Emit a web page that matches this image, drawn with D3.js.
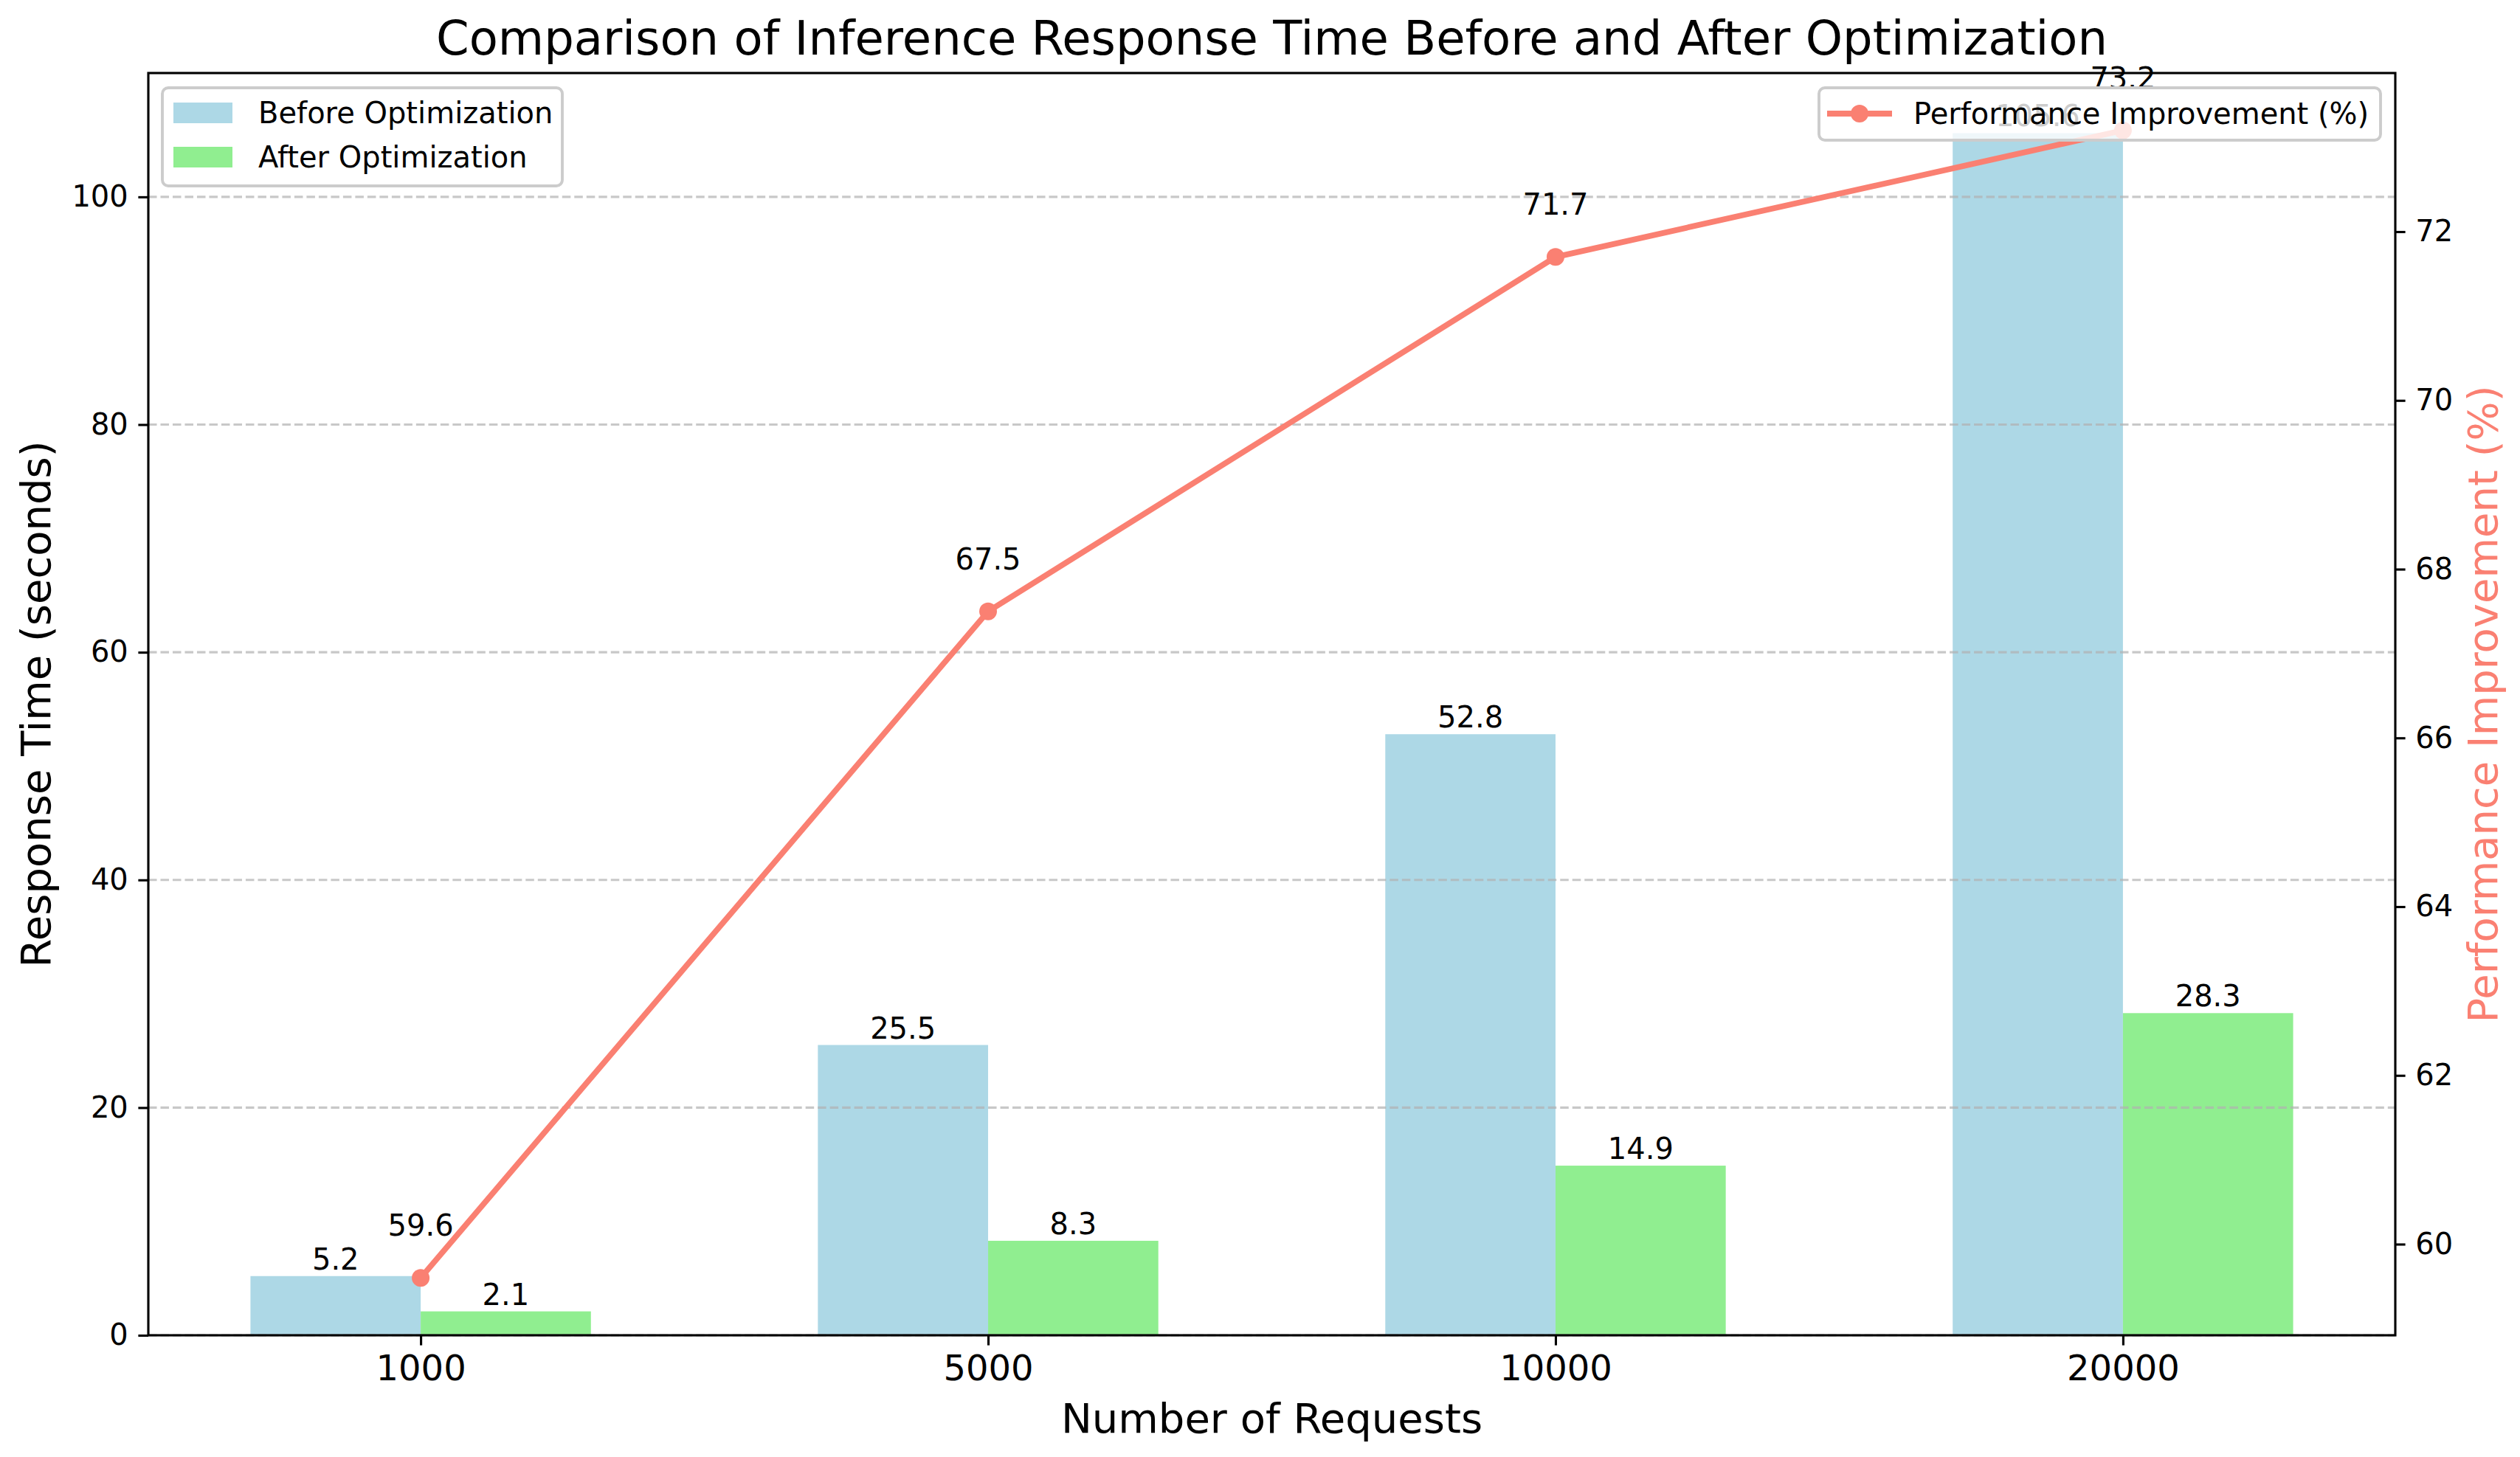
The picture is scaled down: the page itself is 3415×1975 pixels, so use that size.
<!DOCTYPE html>
<html>
<head>
<meta charset="utf-8">
<script src="https://cdn.jsdelivr.net/npm/d3@7"></script>
<style>
body { margin: 0; background: #fff; }
text { font-family: "DejaVu Sans", sans-serif; }
</style>
</head>
<body>
<div id="chart"></div>
<script>
// data
var categories = ["1000", "5000", "10000", "20000"];
var beforeTimes = [5.2, 25.5, 52.8, 105.6];
var afterTimes = [2.1, 8.3, 14.9, 28.3];
var improvement = [59.6, 67.5, 71.7, 73.2];
var leftTicks = [0, 20, 40, 60, 80, 100];
var rightTicks = [60, 62, 64, 66, 68, 70, 72];

var w = 3415, h = 1975;
var m = {left: 201, right: 3246, top: 99, bottom: 1810};
var pt = 3.89;            // px per point (lines)
var fpt = 4.0;            // px per point (fonts)
var barW = 0.3;
var salmon = "#FA8072";

var svg = d3.select("#chart")
            .append("svg")
            .attr("width", w)
            .attr("height", h);

var n = categories.length;
var span = (n - 1) + 2 * barW;
var x = d3.scaleLinear()
          .domain([-barW - 0.05 * span, n - 1 + barW + 0.05 * span])
          .range([m.left, m.right]);

var y1 = d3.scaleLinear()
           .domain([0, d3.max(beforeTimes) * 1.05])
           .range([m.bottom, m.top]);

var lo = d3.min(improvement), hi = d3.max(improvement), pad = (hi - lo) * 0.05;
var y2 = d3.scaleLinear()
           .domain([lo - pad, hi + pad])
           .range([m.bottom, m.top]);

// bars
svg.selectAll("rect.before")
   .data(beforeTimes)
   .enter()
   .append("rect")
   .attr("class", "before")
   .attr("x", function(d, i) { return x(i - barW); })
   .attr("y", function(d) { return y1(d); })
   .attr("width", x(barW) - x(0))
   .attr("height", function(d) { return y1(0) - y1(d); })
   .attr("fill", "#ADD8E6");

svg.selectAll("rect.after")
   .data(afterTimes)
   .enter()
   .append("rect")
   .attr("class", "after")
   .attr("x", function(d, i) { return x(i); })
   .attr("y", function(d) { return y1(d); })
   .attr("width", x(barW) - x(0))
   .attr("height", function(d) { return y1(0) - y1(d); })
   .attr("fill", "#90EE90");

// grid
svg.append("g")
   .selectAll("line")
   .data(leftTicks)
   .enter()
   .append("line")
   .attr("x1", m.left)
   .attr("x2", m.right)
   .attr("y1", function(d) { return y1(d); })
   .attr("y2", function(d) { return y1(d); })
   .attr("stroke", "#b0b0b0")
   .attr("stroke-opacity", 0.7)
   .attr("stroke-width", 0.8 * pt)
   .attr("stroke-dasharray", (2.96 * pt) + "," + (1.28 * pt));

// bar labels
function barLabels(data, offset) {
    svg.append("g")
       .selectAll("text")
       .data(data)
       .enter()
       .append("text")
       .text(function(d) { return d.toFixed(1); })
       .attr("x", function(d, i) { return x(i + offset); })
       .attr("y", function(d) { return y1(d) - 9; })
       .attr("font-size", 10 * fpt)
       .attr("text-anchor", "middle")
       .attr("fill", "#000");
}
barLabels(beforeTimes, -barW / 2);
barLabels(afterTimes, barW / 2);

// axes
var axStroke = 0.8 * pt;
var tickLen = 3.5 * pt;

var gx = svg.append("g")
            .attr("transform", "translate(0," + m.bottom + ")")
            .call(d3.axisBottom(x)
                    .tickValues(d3.range(n))
                    .tickFormat(function(d) { return categories[d]; })
                    .tickSize(tickLen)
                    .tickPadding(tickLen));
gx.select(".domain").remove();
gx.selectAll("text").attr("font-size", 12 * fpt).attr("fill", "#000");

var gy = svg.append("g")
            .attr("transform", "translate(" + m.left + ",0)")
            .call(d3.axisLeft(y1)
                    .tickValues(leftTicks)
                    .tickSize(tickLen)
                    .tickPadding(tickLen));
gy.select(".domain").remove();
gy.selectAll("text").attr("font-size", 10 * fpt).attr("fill", "#000");

var gy2 = svg.append("g")
             .attr("transform", "translate(" + m.right + ",0)")
             .call(d3.axisRight(y2)
                     .tickValues(rightTicks)
                     .tickSize(tickLen)
                     .tickPadding(tickLen));
gy2.select(".domain").remove();
gy2.selectAll("text").attr("font-size", 10 * fpt).attr("fill", "#000");

svg.selectAll(".tick line").attr("stroke", "#000").attr("stroke-width", axStroke);

svg.append("rect")
   .attr("x", m.left)
   .attr("y", m.top)
   .attr("width", m.right - m.left)
   .attr("height", m.bottom - m.top)
   .attr("fill", "none")
   .attr("stroke", "#000")
   .attr("stroke-width", axStroke);

// titles
svg.append("text")
   .text("Comparison of Inference Response Time Before and After Optimization")
   .attr("x", (m.left + m.right) / 2)
   .attr("y", 74)
   .attr("font-size", 16 * fpt)
   .attr("text-anchor", "middle");

svg.append("text")
   .text("Number of Requests")
   .attr("x", (m.left + m.right) / 2)
   .attr("y", 1942)
   .attr("font-size", 14 * fpt)
   .attr("text-anchor", "middle");

svg.append("text")
   .text("Response Time (seconds)")
   .attr("transform", "translate(68," + (m.top + m.bottom) / 2 + ") rotate(-90)")
   .attr("font-size", 14 * fpt)
   .attr("text-anchor", "middle");

svg.append("text")
   .text("Performance Improvement (%)")
   .attr("transform", "translate(3384," + (m.top + m.bottom) / 2 + ") rotate(-90)")
   .attr("font-size", 14 * fpt)
   .attr("text-anchor", "middle")
   .attr("fill", salmon);

// legend for bars
var leg1 = svg.append("g");
leg1.append("rect")
    .attr("x", 220).attr("y", 119)
    .attr("width", 542).attr("height", 133)
    .attr("rx", 8)
    .attr("fill", "#fff").attr("fill-opacity", 0.8)
    .attr("stroke", "#ccc").attr("stroke-width", pt);
[["Before Optimization", "#ADD8E6"], ["After Optimization", "#90EE90"]].forEach(function(d, i) {
    var cy = 153 + i * 60;
    leg1.append("rect")
        .attr("x", 235).attr("y", cy - 14)
        .attr("width", 80).attr("height", 28)
        .attr("fill", d[1]);
    leg1.append("text")
        .text(d[0])
        .attr("x", 350).attr("y", cy + 14)
        .attr("font-size", 10 * fpt);
});

// improvement line
var line = d3.line()
             .x(function(d, i) { return x(i); })
             .y(function(d) { return y2(d); });

svg.append("path")
   .datum(improvement)
   .attr("d", line)
   .attr("fill", "none")
   .attr("stroke", salmon)
   .attr("stroke-width", 2 * pt)
   .attr("stroke-linejoin", "round");

svg.selectAll("circle.pt")
   .data(improvement)
   .enter()
   .append("circle")
   .attr("class", "pt")
   .attr("cx", function(d, i) { return x(i); })
   .attr("cy", function(d) { return y2(d); })
   .attr("r", 3 * fpt)
   .attr("fill", salmon);

svg.append("g")
   .selectAll("text")
   .data(improvement)
   .enter()
   .append("text")
   .text(function(d) { return d.toFixed(1); })
   .attr("x", function(d, i) { return x(i); })
   .attr("y", function(d) { return y2(d) - 57; })
   .attr("font-size", 10 * fpt)
   .attr("text-anchor", "middle");

// legend for line
var leg2 = svg.append("g");
leg2.append("rect")
    .attr("x", 2465).attr("y", 119)
    .attr("width", 761).attr("height", 71)
    .attr("rx", 8)
    .attr("fill", "#fff").attr("fill-opacity", 0.8)
    .attr("stroke", "#ccc").attr("stroke-width", pt);
leg2.append("line")
    .attr("x1", 2476).attr("x2", 2564)
    .attr("y1", 154).attr("y2", 154)
    .attr("stroke", salmon).attr("stroke-width", 2 * pt);
leg2.append("circle")
    .attr("cx", 2520).attr("cy", 154)
    .attr("r", 3 * fpt).attr("fill", salmon);
leg2.append("text")
    .text("Performance Improvement (%)")
    .attr("x", 2593).attr("y", 168)
    .attr("font-size", 10 * fpt);
</script>
</body>
</html>
